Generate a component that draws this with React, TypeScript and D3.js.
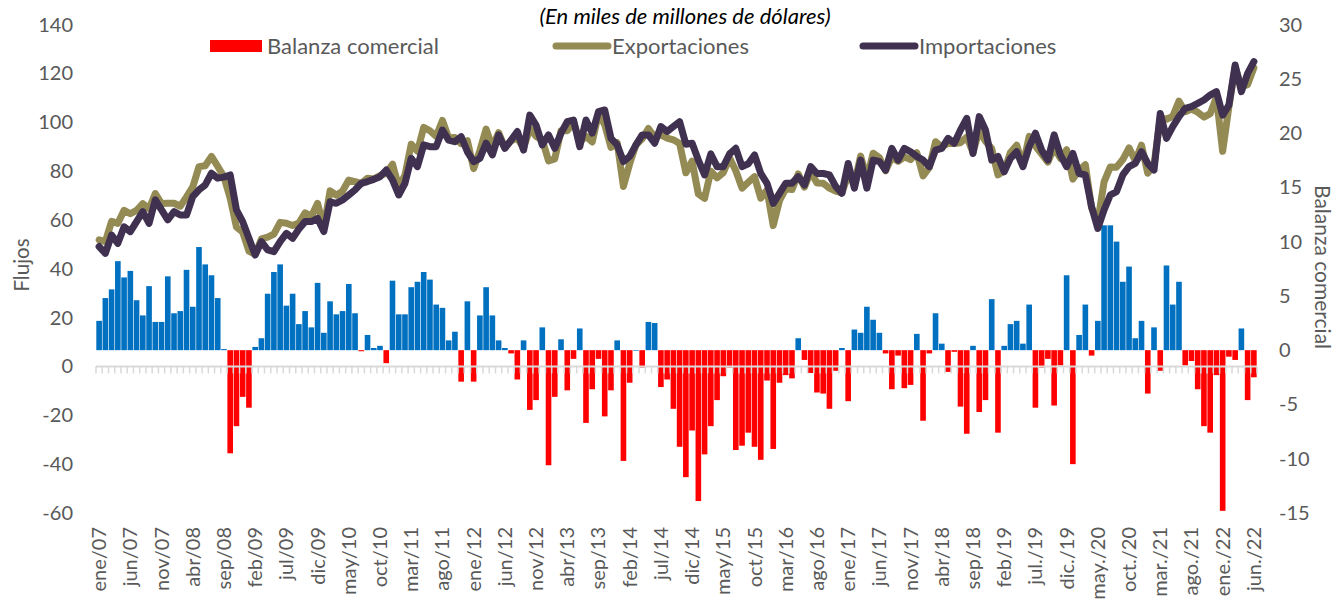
import React from 'react';
import * as d3 from 'd3';

const tickLabels = ['ene/07','jun/07','nov/07','abr/08','sep/08','feb/09','jul/09','dic/09','may/10','oct/10','mar/11','ago/11','ene/12','jun/12','nov/12','abr/13','sep/13','feb/14','jul/14','dic/14','may/15','oct/15','mar/16','ago/16','ene/17','jun/17','nov/17','abr/18','sep/18','feb/19','jul./19','dic./19','may./20','oct./20','mar./21','ago./21','ene./22','jun./22'];

const balanza = [2.7,4.8,5.6,8.2,6.7,7.3,4.6,3.2,5.9,2.6,2.6,6.8,3.4,3.6,7.4,4.0,9.5,7.9,6.9,4.8,0.1,-9.5,-7.0,-4.3,-5.3,0.3,1.1,5.2,7.2,7.9,4.1,5.2,2.4,3.6,2.1,6.2,1.6,4.5,3.3,3.6,6.1,3.4,-0.1,1.4,0.2,0.4,-1.2,6.4,3.3,3.3,5.8,6.3,7.2,6.5,4.2,3.9,0.9,1.7,-2.9,4.5,-2.9,3.2,5.8,3.2,0.9,0.2,-0.3,-2.7,0.9,-5.5,-4.6,2.1,-10.6,-4.3,1.0,-3.7,-0.8,2.0,-6.7,-3.6,-0.8,-6.1,-3.7,0.9,-10.2,-3.0,0.0,-1.6,2.6,2.5,-3.4,-2.7,-5.4,-8.9,-11.7,-7.4,-13.9,-9.6,-7.0,-4.6,-2.4,-1.6,-9.2,-8.8,-7.6,-8.9,-10.1,-2.8,-9.1,-3.0,-2.3,-2.6,1.1,-0.9,-2.1,-3.9,-4.0,-5.4,-1.9,0.2,-4.7,1.9,1.6,4.0,2.8,1.6,-0.3,-3.6,-0.5,-3.5,-3.2,1.5,-6.5,-0.3,3.4,0.6,-2.0,-0.15,-5.2,-7.7,0.4,-5.7,-4.6,4.7,-7.6,0.4,2.4,2.7,0.6,4.2,-5.3,-1.6,-0.8,-5.1,-1.4,6.9,-10.5,1.4,4.2,-0.5,2.7,11.5,11.5,10.0,6.3,7.7,1.1,2.7,-4.0,2.1,-1.9,7.8,4.2,6.3,-1.4,-1.0,-3.6,-7.0,-7.6,-2.3,-14.8,-0.6,-0.9,2.0,-4.6,-2.5];

const importaciones = [49.1,46.3,53.8,50.4,57.2,55.2,59.3,63.4,58.6,68.2,64.1,60.0,63.4,62.0,62.0,69.5,72.3,74.3,79.1,77.1,77.5,78.4,64.1,59.3,52.5,45.6,51.1,47.7,47.0,51.1,54.5,52.5,56.3,59.3,59.3,60.6,55.2,67.4,66.8,68.2,70.2,72.3,75.0,75.7,76.6,77.7,80.4,76.4,70.2,75.0,85.2,81.8,90.7,90.0,90.0,96.8,92.7,92.0,94.1,87.9,83.9,85.2,91.4,86.6,94.8,89.3,92.7,96.2,88.6,102.9,98.8,90.7,94.8,89.3,95.5,100.2,100.9,90.0,100.9,95.5,104.3,105.0,93.4,90.7,83.9,86.0,90.7,94.8,94.8,91.4,98.2,96.2,98.2,100.2,91.0,91.4,84.5,78.4,87.0,81.8,81.8,87.0,89.3,81.8,83.0,86.6,79.0,75.0,66.8,70.9,75.0,75.0,77.7,74.3,81.8,79.0,79.0,78.4,73.7,70.9,83.1,73.0,84.5,73.0,84.5,83.9,80.4,89.3,84.5,89.3,87.9,86.0,84.5,81.8,88.6,89.3,93.4,91.4,96.8,101.6,87.2,102.3,96.8,84.5,86.0,79.7,85.2,87.9,81.8,90.0,95.5,88.6,84.5,94.8,86.6,81.8,87.2,79.0,78.4,65.4,56.5,64.1,70.2,71.6,78.4,81.8,83.1,87.9,83.1,80.4,103.6,93.4,98.2,102.3,105.7,106.4,107.7,109.1,111.1,112.5,102.9,107.0,123.4,112.5,120.0,124.8];

const exportaciones = [51.8,51.1,59.4,58.6,63.9,62.5,63.9,66.6,64.5,70.8,66.7,66.8,66.8,65.6,69.4,73.5,81.8,82.2,86.0,81.9,77.6,68.9,57.1,55.0,47.2,45.9,52.2,52.9,54.2,59.0,58.6,57.7,58.7,62.9,61.4,66.8,56.8,71.9,70.1,71.8,76.3,75.7,74.9,77.1,76.8,78.1,79.2,82.8,73.5,78.3,91.0,88.1,97.9,96.5,94.2,100.7,93.6,93.7,91.2,92.4,81.0,88.4,97.2,89.8,95.7,89.5,92.4,93.5,89.5,97.4,94.2,92.8,84.2,85.0,96.5,96.5,100.1,92.0,94.2,91.9,103.5,98.9,89.7,91.6,73.7,83.0,90.7,93.2,97.4,93.9,94.8,93.5,92.8,91.3,79.3,84.0,70.6,68.8,80.0,77.2,79.4,85.4,80.1,73.0,75.4,77.7,68.9,72.2,57.7,67.9,72.7,72.4,78.8,73.4,79.7,75.1,75.0,73.0,71.8,71.1,78.4,74.9,86.1,77.0,87.3,85.5,80.1,85.7,84.0,85.8,84.7,87.5,78.0,81.5,92.0,89.9,91.4,91.25,91.6,93.9,87.6,96.6,92.2,89.2,78.4,80.1,87.6,90.6,82.4,94.2,90.2,87.0,83.7,89.7,85.2,88.7,76.7,80.4,82.6,64.9,59.2,75.6,81.7,81.6,84.7,89.5,84.2,90.6,79.1,82.5,101.7,101.2,102.4,108.6,104.3,105.4,104.1,102.1,103.5,110.2,88.1,106.4,122.5,114.5,115.4,122.3];

const leftTicks = [140, 120, 100, 80, 60, 40, 20, 0, -20, -40, -60];
const rightTicks = [30, 25, 20, 15, 10, 5, 0, -5, -10, -15];

const FONT = 'Lato, "Noto Sans", sans-serif';
const TXT = '#595959';
const C_EXP = '#948A54';
const C_IMP = '#403151';
const C_POS = '#0070C0';
const C_NEG = '#FF0000';

export default function App() {
  const W = 1337, H = 603;
  const x0 = 96, x1 = 1257, yTop = 24.5, yBot = 513;
  const n = balanza.length;
  const idx = d3.range(n);
  const x = d3.scaleBand<number>().domain(idx).range([x0, x1]).paddingInner(0.1).paddingOuter(0.05);
  const step = x.step();
  const yL = d3.scaleLinear().domain([-60, 140]).range([yBot, yTop]);
  const yR = d3.scaleLinear().domain([-15, 30]).range([yBot, yTop]);
  const cx = (i: number) => (x(i) as number) + x.bandwidth() / 2;
  const line = d3.line<number>().x((_, i) => cx(i)).y(d => yL(d));
  const axisY = yL(0);

  return (
    <svg width={W} height={H} style={{ position: 'absolute', left: 0, top: 0, background: '#fff' }} fontFamily={FONT}>
      <text x={685} y={24} textAnchor="middle" fontSize={22} fontStyle="italic" fill="#000">(En miles de millones de dólares)</text>

      {leftTicks.map(t => (
        <text key={'l' + t} x={73} y={yL(t)} dy="0.35em" textAnchor="end" fontSize={20} fill={TXT}>{t}</text>
      ))}
      {rightTicks.map(t => (
        <text key={'r' + t} x={1279} y={yR(t)} dy="0.35em" textAnchor="start" fontSize={20} fill={TXT}>{t}</text>
      ))}
      <text transform={`translate(22,${265}) rotate(-90)`} textAnchor="middle" dy="0.35em" fontSize={20.5} fill={TXT}>Flujos</text>
      <text transform={`translate(1322,${267}) rotate(90)`} textAnchor="middle" dy="0.35em" fontSize={21} fill={TXT}>Balanza comercial</text>

      {balanza.map((v, i) => (
        <rect key={'b' + i} x={x(i)} width={x.bandwidth()}
          y={Math.min(yR(0), yR(v))} height={Math.max(0.6, Math.abs(yR(v) - yR(0)))}
          fill={v >= 0 ? C_POS : C_NEG} />
      ))}

      <line x1={x0} x2={x1} y1={axisY} y2={axisY} stroke="#D9D9D9" strokeWidth={2} />
      {d3.range(n + 1).map(i => (
        <line key={'t' + i} x1={x0 + i * step} x2={x0 + i * step} y1={axisY} y2={axisY + 7} stroke="#D9D9D9" strokeWidth={1.5} />
      ))}

      <path d={line(exportaciones) || ''} fill="none" stroke={C_EXP} strokeWidth={7} strokeLinejoin="round" strokeLinecap="round" />
      <path d={line(importaciones) || ''} fill="none" stroke={C_IMP} strokeWidth={7} strokeLinejoin="round" strokeLinecap="round" />

      {tickLabels.map((lab, j) => {
        const i = j * 5;
        return (
          <text key={'x' + j} transform={`translate(${cx(i)},527) rotate(-90)`} textAnchor="end" dy="0.35em" fontSize={20} fill={TXT}>{lab}</text>
        );
      })}

      <rect x={210} y={40} width={52} height={12} fill={C_NEG} />
      <text x={267} y={46} dy="0.35em" fontSize={22} fill={TXT}>Balanza comercial</text>
      <line x1={556} x2={608} y1={46} y2={46} stroke={C_EXP} strokeWidth={7} strokeLinecap="round" />
      <text x={612} y={46} dy="0.35em" fontSize={22} fill={TXT}>Exportaciones</text>
      <line x1={863} x2={915} y1={46} y2={46} stroke={C_IMP} strokeWidth={7} strokeLinecap="round" />
      <text x={919} y={46} dy="0.35em" fontSize={22} fill={TXT}>Importaciones</text>
    </svg>
  );
}
